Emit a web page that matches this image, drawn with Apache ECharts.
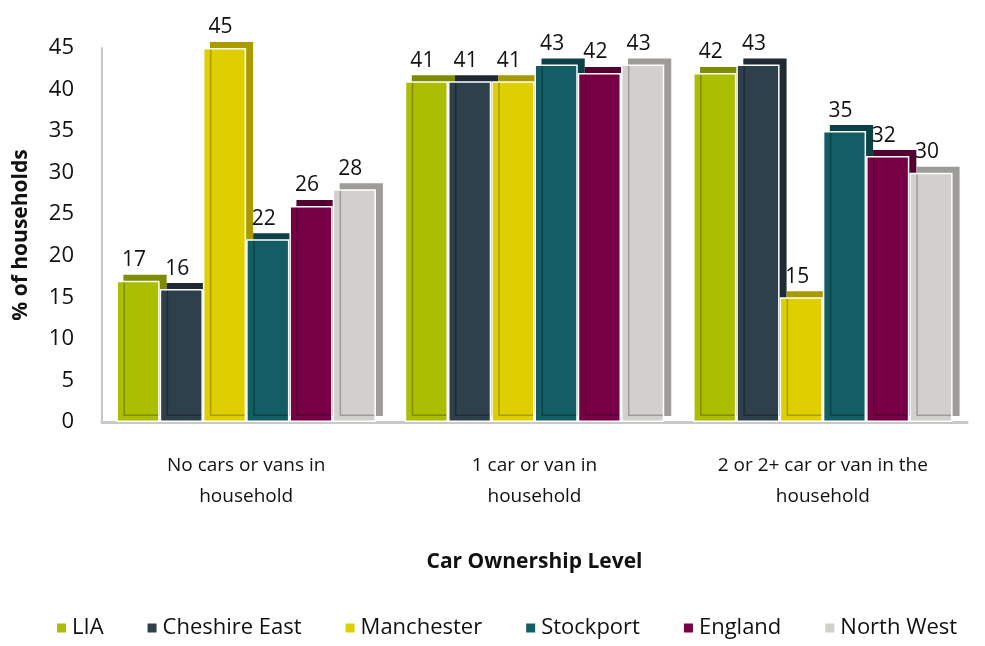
<!DOCTYPE html>
<html><head><meta charset="utf-8">
<script src="https://cdn.jsdelivr.net/npm/echarts@6/dist/echarts.min.js"></script>
<style>html,body{margin:0;padding:0;background:#fff}#c{width:985px;height:646px}</style>
</head><body><div id="c"></div>
<script>
const categories = ['No cars or vans in\nhousehold', '1 car or van in\nhousehold', '2 or 2+ car or van in the\nhousehold'];
const seriesNames = ['LIA', 'Cheshire East', 'Manchester', 'Stockport', 'England', 'North West'];
const LIA = [17, 41, 42];
const CheshireEast = [16, 41, 43];
const Manchester = [45, 41, 15];
const Stockport = [22, 43, 35];
const England = [26, 42, 32];
const NorthWest = [28, 43, 30];
const yTicks = [0, 5, 10, 15, 20, 25, 30, 35, 40, 45];

const values = [LIA, CheshireEast, Manchester, Stockport, England, NorthWest];
const colors = ['#abbf00', '#2f404d', '#dfcf00', '#135e65', '#780045', '#d1d0cc'];
const sides = ['#7f8c00', '#1f2b34', '#a89a00', '#0c4247', '#540030', '#9d9c98'];
const font = '"Open Sans", "Liberation Sans", sans-serif';

const chart = echarts.init(document.getElementById('c'));
chart.setOption({
  backgroundColor: '#fff',
  animation: false,
  grid: { left: 102, right: 18, top: 48, bottom: 224 },
  legend: {
    bottom: 2, left: 50, itemWidth: 11, itemHeight: 11, itemGap: 42,
    icon: 'rect',
    textStyle: { fontFamily: font, fontSize: 22, color: '#111' },
    data: seriesNames
  },
  xAxis: {
    type: 'category', data: categories,
    name: 'Car Ownership Level', nameLocation: 'middle', nameGap: 130,
    nameTextStyle: { fontFamily: font, fontSize: 21, fontWeight: 'bold', color: '#111' },
    axisLine: { lineStyle: { color: '#c8c8c8', width: 3 } },
    axisTick: { show: false },
    axisLabel: { fontFamily: font, fontSize: 19, color: '#111', lineHeight: 31, margin: 28 }
  },
  yAxis: {
    type: 'value', min: 0, max: 45, interval: 5,
    name: '% of households', nameLocation: 'middle', nameGap: 70,
    nameTextStyle: { fontFamily: font, fontSize: 21, fontWeight: 'bold', color: '#111' },
    axisLine: { show: true, lineStyle: { color: '#c8c8c8', width: 2 } },
    axisTick: { show: false },
    splitLine: { show: false },
    axisLabel: { fontFamily: font, fontSize: 22, color: '#111', margin: 28,
      formatter: v => yTicks.includes(v) ? String(v) : '' }
  },
  series: seriesNames.map((n, i) => ({
    name: n, type: 'bar', data: values[i],
    barGap: '0%', barCategoryGap: '10%',
    itemStyle: {
      color: colors[i], borderColor: '#fff', borderWidth: 1.5,
      shadowColor: sides[i], shadowOffsetX: 7, shadowOffsetY: -6, shadowBlur: 0
    },
    label: { show: true, position: 'top', distance: 10, offset: [-4, 0],
      fontFamily: font, fontSize: 21, color: '#111' }
  }))
});
</script></body></html>
